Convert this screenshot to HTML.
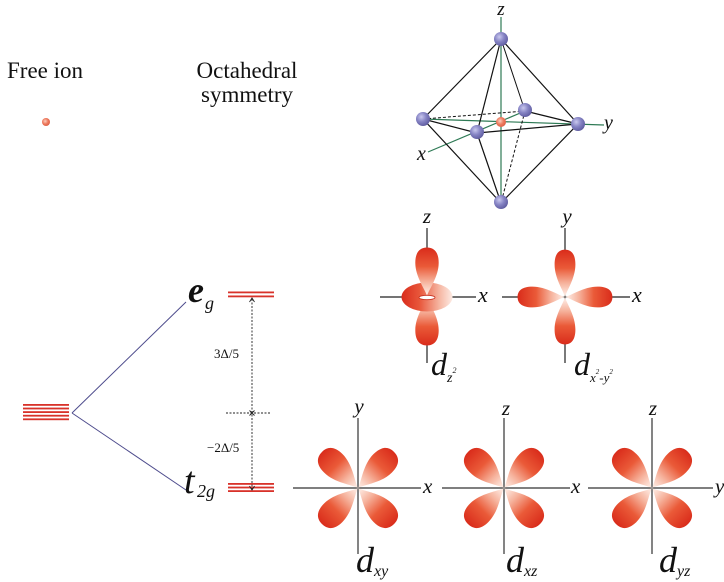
<!DOCTYPE html>
<html><head><meta charset="utf-8"><style>
html,body{margin:0;padding:0;background:#fff;}
svg{display:block;font-family:"Liberation Serif","Times New Roman","DejaVu Serif",serif;}
svg text{font-family:"Liberation Serif","Times New Roman","DejaVu Serif",serif;fill:#111;}
.it{font-style:italic;}
</style></head><body>
<svg width="724" height="582" viewBox="0 0 724 582" xmlns="http://www.w3.org/2000/svg" font-family="'Liberation Serif', 'Times New Roman', serif">
<defs>
  <linearGradient id="lg" gradientUnits="userSpaceOnUse" x1="0" y1="0" x2="50" y2="0">
    <stop offset="0" stop-color="#fff4ee"/>
    <stop offset="0.3" stop-color="#f6b29c"/>
    <stop offset="0.62" stop-color="#ea5a38"/>
    <stop offset="1" stop-color="#da2e1c"/>
  </linearGradient>
  <linearGradient id="tor" x1="0" y1="0" x2="1" y2="0">
    <stop offset="0" stop-color="#d92c1c"/>
    <stop offset="0.35" stop-color="#e8563a"/>
    <stop offset="0.75" stop-color="#f6b8a4"/>
    <stop offset="1" stop-color="#fdebe4"/>
  </linearGradient>
  <radialGradient id="sph" cx="0.38" cy="0.35" r="0.7">
    <stop offset="0" stop-color="#c9c8ee"/>
    <stop offset="0.5" stop-color="#8684c4"/>
    <stop offset="1" stop-color="#5d5a9e"/>
  </radialGradient>
  <radialGradient id="rsph" cx="0.4" cy="0.4" r="0.7">
    <stop offset="0" stop-color="#fbd0c0"/>
    <stop offset="0.5" stop-color="#ee7a5e"/>
    <stop offset="1" stop-color="#d85a40"/>
  </radialGradient>
  <path id="lobe" d="M0,0 C7,-2 20,-13 35,-13 C46,-13 51,-8 51,0 C51,8 46,13 35,13 C20,13 7,2 0,0 Z" fill="url(#lg)"/>
</defs>

<!-- Titles -->
<text x="7" y="78" font-size="23">Free ion</text>
<text x="247" y="78" font-size="23" text-anchor="middle">Octahedral</text>
<text x="247" y="102" font-size="23" text-anchor="middle">symmetry</text>

<!-- free ion dot -->
<circle cx="46" cy="122" r="4" fill="url(#rsph)"/>

<!-- Octahedron -->
<g stroke-width="1.2" fill="none">
  <line x1="501" y1="17" x2="501" y2="203" stroke="#2e7a55"/>
  <line x1="423" y1="119" x2="604" y2="125" stroke="#2e7a55"/>
  <line x1="428" y1="152" x2="525" y2="111" stroke="#2e7a55"/>
  <g stroke="#111">
    <line x1="501" y1="39" x2="423" y2="119"/>
    <line x1="501" y1="39" x2="477" y2="133"/>
    <line x1="501" y1="39" x2="578" y2="124"/>
    <line x1="501" y1="39" x2="525" y2="111" stroke-width="1"/>
    <line x1="423" y1="119" x2="477" y2="133"/>
    <line x1="477" y1="133" x2="578" y2="124"/>
    <line x1="525" y1="111" x2="578" y2="124"/>
    <line x1="423" y1="119" x2="501" y2="203"/>
    <line x1="477" y1="133" x2="501" y2="203"/>
    <line x1="578" y1="124" x2="501" y2="203"/>
    <line x1="423" y1="119" x2="525" y2="111" stroke-dasharray="3,2" stroke-width="1"/>
    <line x1="525" y1="111" x2="501" y2="203" stroke-dasharray="3,2" stroke-width="1"/>
  </g>
</g>
<circle cx="501" cy="122" r="5" fill="url(#rsph)"/>
<circle cx="501" cy="39" r="7" fill="url(#sph)"/>
<circle cx="423" cy="119" r="7" fill="url(#sph)"/>
<circle cx="525" cy="110" r="7" fill="url(#sph)"/>
<circle cx="477" cy="132" r="7" fill="url(#sph)"/>
<circle cx="578" cy="124" r="7" fill="url(#sph)"/>
<circle cx="501" cy="202" r="7" fill="url(#sph)"/>
<text x="501" y="15" font-size="19" class="it" text-anchor="middle">z</text>
<text x="417" y="160" font-size="20" class="it">x</text>
<text x="604" y="129" font-size="20" class="it">y</text>

<!-- Energy diagram -->
<g fill="#d8322a">
  <rect x="23" y="404" width="46" height="1.8"/>
  <rect x="23" y="407.6" width="46" height="1.8"/>
  <rect x="23" y="411.2" width="46" height="1.8"/>
  <rect x="23" y="414.8" width="46" height="1.8"/>
  <rect x="23" y="418.4" width="46" height="1.8"/>
  <rect x="228" y="291.5" width="46" height="1.8"/>
  <rect x="228" y="295.5" width="46" height="1.8"/>
  <rect x="228" y="483" width="46" height="1.8"/>
  <rect x="228" y="486.6" width="46" height="1.8"/>
  <rect x="228" y="490.2" width="46" height="1.8"/>
</g>
<g stroke="#4d4b8c" stroke-width="1">
  <line x1="72" y1="413" x2="186" y2="302"/>
  <line x1="72" y1="413" x2="186" y2="490"/>
</g>
<g stroke="#222" stroke-width="0.9" fill="none">
  <line x1="252" y1="299" x2="252" y2="489" stroke-dasharray="2,1.5"/>
  <line x1="226" y1="413" x2="271" y2="413" stroke-dasharray="2,1.5"/>
  <path d="M249.5,302 L252,298 L254.5,302"/>
  <path d="M249.5,486 L252,490 L254.5,486"/>
  <path d="M249.5,410.5 L254.5,415.5 M254.5,410.5 L249.5,415.5"/>
</g>
<text x="214" y="358" font-size="13">3Δ/5</text>
<text x="207" y="452" font-size="13">−2Δ/5</text>
<text x="188" y="302" font-size="36" class="it" font-weight="bold">e</text>
<text x="205" y="309" font-size="18" class="it">g</text>
<text x="184" y="493" font-size="38" class="it">t</text>
<text x="197" y="497" font-size="18" class="it">2g</text>

<!-- d_z2 -->
<g stroke="#222" stroke-width="1.2">
  <line x1="427" y1="228" x2="427" y2="363"/>
  <line x1="380" y1="297" x2="476" y2="297"/>
</g>
<use href="#lobe" transform="translate(427,297) rotate(90) scale(0.95,0.9)"/>
<ellipse cx="427" cy="297" rx="25.5" ry="14.5" fill="url(#tor)"/>
<g transform="translate(427,296)"><use href="#lobe" transform="rotate(-90) scale(0.95,0.9)"/></g>
<ellipse cx="427" cy="297.5" rx="8" ry="2.2" fill="#fff" stroke="#c8301e" stroke-width="0.8"/>
<text x="427" y="223" font-size="21" class="it" text-anchor="middle">z</text>
<text x="478" y="302" font-size="22" class="it">x</text>
<text x="431" y="375" font-size="32" class="it">d<tspan font-size="14" dy="7">z</tspan><tspan font-size="8" dy="-9">2</tspan></text>

<!-- d_x2-y2 -->
<g stroke="#222" stroke-width="1.2">
  <line x1="565" y1="228" x2="565" y2="363"/>
  <line x1="502" y1="297" x2="630" y2="297"/>
</g>
<g transform="translate(565,297)">
  <use href="#lobe" transform="rotate(-90) scale(0.93,0.8)"/>
  <use href="#lobe" transform="rotate(90) scale(0.93,0.8)"/>
  <use href="#lobe" transform="rotate(180) scale(0.93,0.8)"/>
  <use href="#lobe" transform="scale(0.93,0.8)"/>
</g>
<text x="567" y="223" font-size="21" class="it" text-anchor="middle">y</text>
<text x="632" y="302" font-size="22" class="it">x</text>
<text x="574" y="375" font-size="32" class="it">d<tspan font-size="13" dy="7">x</tspan><tspan font-size="7" dy="-8">2</tspan><tspan font-size="13" dy="8">-y</tspan><tspan font-size="7" dy="-8">2</tspan></text>

<!-- bottom row axes -->
<g stroke="#333" stroke-width="1.2">
  <line x1="358" y1="418" x2="358" y2="554"/>
  <line x1="293" y1="488" x2="421" y2="488"/>
  <line x1="504" y1="418" x2="504" y2="554"/>
  <line x1="442" y1="488" x2="570" y2="488"/>
  <line x1="652" y1="418" x2="652" y2="554"/>
  <line x1="588" y1="488" x2="713" y2="488"/>
</g>
<g transform="translate(358,488)">
  <use href="#lobe" transform="rotate(-45)"/>
  <use href="#lobe" transform="rotate(45)"/>
  <use href="#lobe" transform="rotate(135)"/>
  <use href="#lobe" transform="rotate(225)"/>
</g>
<g transform="translate(504,488)">
  <use href="#lobe" transform="rotate(-45)"/>
  <use href="#lobe" transform="rotate(45)"/>
  <use href="#lobe" transform="rotate(135)"/>
  <use href="#lobe" transform="rotate(225)"/>
</g>
<g transform="translate(652,488)">
  <use href="#lobe" transform="rotate(-45)"/>
  <use href="#lobe" transform="rotate(45)"/>
  <use href="#lobe" transform="rotate(135)"/>
  <use href="#lobe" transform="rotate(225)"/>
</g>
<text x="359" y="413" font-size="21" class="it" text-anchor="middle">y</text>
<text x="423" y="493" font-size="21" class="it">x</text>
<text x="506" y="415" font-size="21" class="it" text-anchor="middle">z</text>
<text x="571" y="493" font-size="21" class="it">x</text>
<text x="653" y="415" font-size="21" class="it" text-anchor="middle">z</text>
<text x="715" y="493" font-size="21" class="it">y</text>

<text x="356" y="572" font-size="36" class="it">d<tspan font-size="16" dy="4">xy</tspan></text>
<text x="506" y="572" font-size="36" class="it">d<tspan font-size="16" dy="4">xz</tspan></text>
<text x="659" y="572" font-size="36" class="it">d<tspan font-size="16" dy="4">yz</tspan></text>
</svg>
</body></html>
